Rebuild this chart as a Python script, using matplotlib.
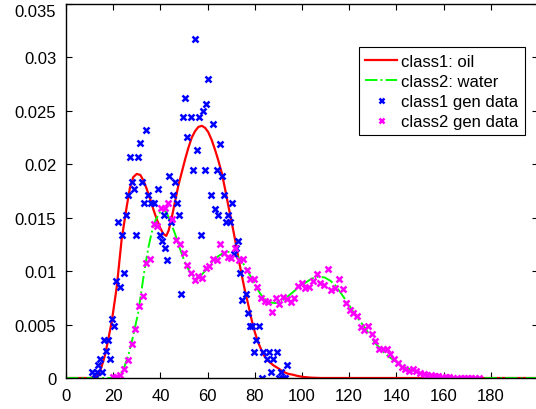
import matplotlib
matplotlib.use("Agg")
import matplotlib.pyplot as plt

plt.rcParams['font.family'] = ['Liberation Sans', 'DejaVu Sans']

# fitted densities
red_x = [0, 10, 12, 13.7, 15, 16.5, 18, 19.4, 21.5, 23.6, 25.7, 27.1, 28.5, 30.0, 31.5,
         32.8, 34.2, 35.6, 37, 38.4, 39.8, 41.2, 42.5, 43.5, 44.8, 46.2, 47.6, 49, 50.4,
         51.8, 53.3, 54.7, 56.1, 57.6, 59, 60.3, 61.7, 63.1, 64.5, 66, 67.4, 68.8, 70.2,
         71.6, 73, 74.4, 75.8, 77.3, 78.6, 80, 81.5, 83.6, 85.7, 87.8, 90, 92, 94, 96.3,
         98, 100.4, 104, 108, 200]
red_y = [0, 0, 0.0001, 0.0003, 0.0010, 0.0021, 0.0037, 0.0053, 0.0085, 0.0130, 0.0160,
         0.0178, 0.0188, 0.0191, 0.0190, 0.0185, 0.0177, 0.0168, 0.0158, 0.0149, 0.0141,
         0.0135, 0.0133, 0.0138, 0.0150, 0.0165, 0.0180, 0.0192, 0.0204, 0.0215, 0.0225,
         0.0231, 0.0235, 0.0236, 0.0234, 0.0230, 0.0223, 0.0214, 0.0204, 0.0192, 0.0177,
         0.0161, 0.0146, 0.0130, 0.0113, 0.0097, 0.0082, 0.0068, 0.0055, 0.0043, 0.0033,
         0.0022, 0.0016, 0.0012, 0.0009, 0.0006, 0.0004, 0.0003, 0.0002, 0.0001, 0.00003,
         0, 0]

green_x = [0, 19, 21, 22.9, 24.5, 26.4, 27.8, 28.5, 30.6, 31.4, 33.2, 34.9, 36.3, 38, 39.8,
           41.2, 42.6, 44.1, 46.2, 48.3, 50.4, 52.5, 54.7, 56.8, 58.9, 61.7, 64.5, 67.4,
           70.2, 73, 75.8, 78, 80.1, 82, 83.6, 86, 88.6, 91.5, 94.9, 99.2, 104.1, 107,
           109.7, 112, 114, 116, 118.2, 120, 121.7, 124, 126.7, 129, 130.9, 133, 135.2,
           137.4, 139.4, 141.5, 143.6, 146, 148.6, 151, 154.2, 157.5, 161.3, 166, 170, 200]
green_y = [0, 0, 0.0001, 0.0003, 0.0009, 0.0021, 0.0033, 0.0040, 0.0061, 0.0073, 0.0100,
           0.0122, 0.0136, 0.0148, 0.0155, 0.0157, 0.0155, 0.0147, 0.0135, 0.0121, 0.0108,
           0.0099, 0.0094, 0.0095, 0.0100, 0.0108, 0.0114, 0.0118, 0.0118, 0.0113, 0.0105,
           0.0096, 0.0088, 0.0080, 0.0075, 0.0071, 0.0070, 0.0072, 0.0078, 0.0086, 0.0093,
           0.0095, 0.0094, 0.0091, 0.0087, 0.0081, 0.0074, 0.0068, 0.0062, 0.0055, 0.0047,
           0.0039, 0.0033, 0.0028, 0.0023, 0.0019, 0.0016, 0.0013, 0.0010, 0.0008, 0.0006,
           0.0004, 0.0003, 0.0002, 0.0001, 0.00003, 0, 0]

# generated samples (histogram estimates)
blue_x = [11.2, 12.3, 13.0, 13.7, 14.5, 15.4, 16.2, 17.1, 17.9, 18.8, 19.6, 20.5, 21.3,
          22.2, 23.0, 23.9, 24.7, 25.6, 26.4, 27.3, 28.1, 28.9, 29.7, 30.4, 31.4, 32.3,
          32.9, 33.9, 34.6, 36.0, 37.3, 38.8, 39.8, 40.5, 41.4, 42.1, 42.9, 43.6, 44.6,
          45.5, 46.3, 47.2, 48.0, 48.7, 49.6, 50.4, 51.3, 53.0, 53.8, 54.7, 55.5, 56.2,
          57.1, 57.9, 58.8, 59.5, 60.3, 61.3, 62.1, 63.0, 63.9, 64.6, 65.4, 66.2, 67.1,
          67.9, 68.8, 69.6, 70.5, 71.2, 72.0, 72.9, 73.7, 74.6, 76.1, 77.1, 78.0, 78.8,
          79.7, 80.4, 81.6, 82.9, 83.6, 85.3, 86.1, 87.0, 87.8, 89.5, 90.4, 91.1, 92.1,
          92.9, 93.6]
blue_y = [0.0006, 0.0, 0.0006, 0.0012, 0.0018, 0.0006, 0.0036, 0.0025, 0.0036, 0.0018,
          0.0055, 0.0049, 0.0091, 0.0146, 0.0085, 0.0134, 0.0098, 0.0153, 0.0171, 0.0207,
          0.0183, 0.0177, 0.0134, 0.0207, 0.0220, 0.0183, 0.0164, 0.0232, 0.0171, 0.0164,
          0.0164, 0.0177, 0.0134, 0.0128, 0.0153, 0.0122, 0.0110, 0.0189, 0.0146, 0.0171,
          0.0183, 0.0164, 0.0153, 0.0079, 0.0244, 0.0262, 0.0226, 0.0244, 0.0195, 0.0317,
          0.0213, 0.0244, 0.0134, 0.0250, 0.0195, 0.0256, 0.0280, 0.0171, 0.0238, 0.0158,
          0.0195, 0.0153, 0.0219, 0.0189, 0.0171, 0.0146, 0.0153, 0.0146, 0.0164, 0.0116,
          0.0122, 0.0128, 0.0098, 0.0073, 0.0079, 0.0061, 0.0049, 0.0049, 0.0024, 0.0036,
          0.0049, 0.0, 0.0024, 0.0018, 0.0024, 0.0006, 0.0018, 0.0024, 0.0, 0.0006, 0.0,
          0.0, 0.0012]

mag_x = [19.9, 21.4, 23.0, 24.7, 26.2, 27.8, 29.4, 31.1, 32.5, 34.0, 35.6, 37.3, 38.7,
         40.3, 41.9, 43.4, 45.0, 46.6, 48.3, 49.9, 51.4, 53.0, 54.5, 56.1, 57.6, 59.2,
         60.6, 62.3, 63.8, 65.4, 66.9, 68.5, 70.0, 71.7, 73.3, 75.0, 76.6, 78.1, 79.7,
         81.1, 82.6, 84.3, 85.8, 87.3, 88.8, 90.4, 92.1, 93.6, 95.2, 96.7, 98.3, 99.9,
         101.4, 103.0, 104.5, 106.2, 107.8, 109.3, 110.9, 112.4, 114.1, 115.5, 117.2,
         118.6, 120.2, 121.7, 123.3, 124.9, 126.4, 128.1, 129.7, 131.1, 132.6, 134.3,
         135.9, 137.4, 139.0, 140.7, 142.2, 143.8, 145.3, 146.9, 148.4, 150.0, 151.6,
         153.1, 154.7, 156.3, 157.8, 159.4, 160.9, 162.5, 164.0, 165.6, 167.2, 168.7,
         170.3, 171.8, 173.4, 175.0]
mag_y = [0.0001, 0.0001, 0.0003, 0.0008, 0.0017, 0.0032, 0.0046, 0.0067, 0.0077, 0.0108,
         0.0111, 0.0144, 0.0142, 0.0159, 0.0159, 0.0164, 0.0149, 0.0129, 0.0125, 0.0117,
         0.0106, 0.0098, 0.0092, 0.0095, 0.0094, 0.0103, 0.0105, 0.0111, 0.0110, 0.0125,
         0.0117, 0.0113, 0.0112, 0.0122, 0.0110, 0.0111, 0.0101, 0.0093, 0.0093, 0.0085,
         0.0075, 0.0072, 0.0071, 0.0062, 0.0075, 0.0069, 0.0076, 0.0074, 0.0071, 0.0075,
         0.0086, 0.0089, 0.0084, 0.0085, 0.0091, 0.0097, 0.0089, 0.0087, 0.0102, 0.0082,
         0.0084, 0.0093, 0.0083, 0.0070, 0.0064, 0.0061, 0.0058, 0.0048, 0.0045, 0.0049,
         0.0041, 0.0035, 0.0027, 0.0027, 0.0027, 0.0022, 0.0018, 0.0014, 0.0010, 0.0008,
         0.0007, 0.0008, 0.0007, 0.0005, 0.0004, 0.0003, 0.0003, 0.0002, 0.0002, 0.0001,
         0.0001, 0.0001, 0.0, 0.0, 0.0, 0.0, 0.0, 0.0, 0.0, 0.0]

xticks = [0, 20, 40, 60, 80, 100, 120, 140, 160, 180]
yticks = [0, 0.005, 0.01, 0.015, 0.02, 0.025, 0.03, 0.035]
ytick_labels = ['0', '0.005', '0.01', '0.015', '0.02', '0.025', '0.03', '0.035']

fig = plt.figure(figsize=(5.36, 4.10), dpi=100)
ax = fig.add_axes([0.1231, 0.0756, 0.8806, 0.9122])

ax.plot(red_x, red_y, color='#ff0000', linewidth=1.6, label='class1: oil')
ax.plot(green_x, green_y, color='#00ff00', linestyle='-.', linewidth=1.4, label='class2: water')
ax.plot(blue_x, blue_y, linestyle='none', marker='x', color='#0000ff',
        markersize=4, markeredgewidth=1.8, label='class1 gen data')
ax.plot(mag_x, mag_y, linestyle='none', marker='x', color='#ff00ff',
        markersize=4, markeredgewidth=1.8, label='class2 gen data')

ax.set_xlim(0, 200)
ax.set_ylim(0, 0.035)
ax.set_xticks(xticks)
ax.set_yticks(yticks)
ax.set_yticklabels(ytick_labels)
ax.tick_params(direction='in', top=True, right=True, length=4, width=0.8,
               labelsize=12)
ax.tick_params(axis='x', pad=7)
ax.tick_params(axis='y', pad=7)
# top label sits a little lower in the original
ax.get_yticklabels()[-1].set_verticalalignment('top')
for s in ax.spines.values():
    s.set_linewidth(1.0)

leg = ax.legend(loc='upper right', bbox_to_anchor=(0.9725, 0.885), borderaxespad=0,
                fontsize=12, fancybox=False, framealpha=1, edgecolor='black',
                handlelength=1.9, handletextpad=0.25, labelspacing=0.3,
                borderpad=0.4, markerscale=0.9)
leg.get_frame().set_linewidth(0.8)

fig.savefig('out.png', dpi=100)
